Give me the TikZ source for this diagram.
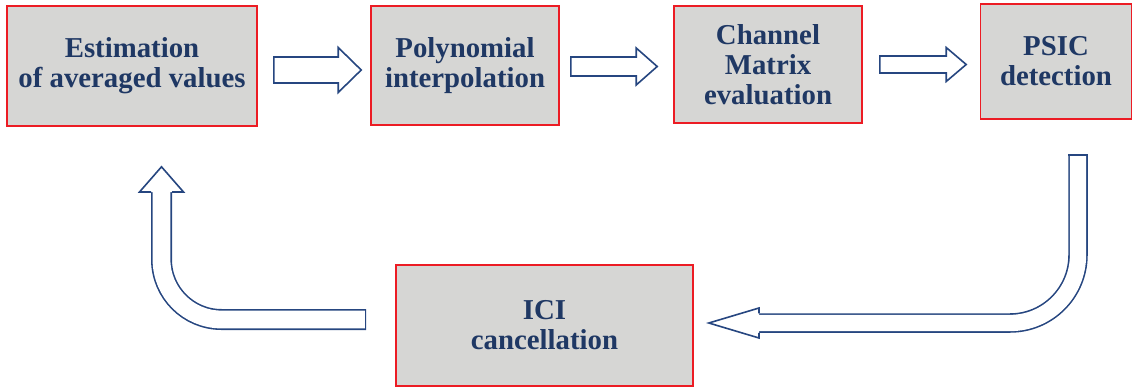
\documentclass[tikz,border=0pt]{standalone}
\usepackage{fontspec}
\setmainfont{Liberation Serif}
\usetikzlibrary{calc}
\definecolor{boxfill}{RGB}{214,214,212}
\definecolor{boxred}{RGB}{236,28,36}
\definecolor{txtblue}{RGB}{31,56,100}
\definecolor{arrblue}{RGB}{38,70,128}
\newcommand\blockarr[5]{%
  \draw[barrow] let \p1=(#1), \p2=(#2) in
    (\x1,\y1+#4) -- (\x2-#3,\y1+#4) -- (\x2-#3,\y1+#5) -- (\x2,\y1)
    -- (\x2-#3,\y1-#5) -- (\x2-#3,\y1-#4) -- (\x1,\y1-#4) -- cycle;}
\begin{document}
\begin{tikzpicture}[x=1pt,y=1pt,
  box/.style={draw=boxred, line width=1.6pt, fill=boxfill, text=txtblue,
    font=\bfseries\fontsize{28.8}{30}\selectfont, align=center, inner sep=0pt},
  barrow/.style={draw=arrblue, fill=white, line width=1.6pt, line join=miter},
  bandout/.style={draw=arrblue, line width=#1},
  bandin/.style={draw=white, line width=#1},
  capline/.style={draw=arrblue, line width=1.6pt},
]
\useasboundingbox (0,0) rectangle (1134,389);

% boxes
\node[box, minimum width=250pt, minimum height=120pt] (est) at (132,323)
  {Estimation\\of averaged values};
\node[box, minimum width=188pt, minimum height=119pt] (poly) at (465,323.5)
  {Polynomial\\interpolation};
\node[box, minimum width=188pt, minimum height=117pt] (chan) at (768,324.5)
  {Channel\\Matrix\\evaluation};
\node[box, minimum width=151pt, minimum height=115pt] (psic) at (1056,327.5)
  {PSIC\\detection};
\node[box, minimum width=297pt, minimum height=121pt] (ici) at (544.5,63.5)
  {ICI\\cancellation};

% straight block arrows
\coordinate (a1s) at ($(est.east |- 0,319)+(16,0)$);
\coordinate (a1e) at ($(poly.west |- 0,319)+(-9,0)$);
\blockarr{a1s}{a1e}{23pt}{13pt}{22.5pt}
\coordinate (a2s) at ($(poly.east |- 0,322.5)+(11,0)$);
\coordinate (a2e) at ($(chan.west |- 0,322.5)+(-16,0)$);
\blockarr{a2s}{a2e}{21pt}{9.5pt}{18.5pt}
\coordinate (a3s) at ($(chan.east |- 0,324.5)+(17,0)$);
\coordinate (a3e) at ($(psic.west |- 0,324.5)+(-13.5,0)$);
\blockarr{a3s}{a3e}{20pt}{8.5pt}{17pt}

% curved arrow PSIC -> ICI
\coordinate (r0) at (1078,235);
\coordinate (r1) at (759,66);
\coordinate (r2) at ($(ici.east |- r1)+(15,0)$);
\draw[bandout=19.5pt, rounded corners=68pt] (r0) |- (r1);
\draw[bandin=16.3pt, rounded corners=68pt] ($(r0)+(0,-0.8)$) |- (r1);
\draw[capline] ($(r0)+(-9.75,-0.8)$) -- ($(r0)+(9.75,-0.8)$);
\fill[white] (759,81) -- (r2) -- (759,51) -- cycle;
\draw[capline, line join=miter] (759,56.25) -- (759,51) -- (r2) -- (759,81) -- (759,75.75);

% curved arrow ICI -> Estimation
\coordinate (l0) at ($(ici.west |- 0,69.5)+(-29,0)$);
\coordinate (l1) at (161.5,197);
\coordinate (l2) at ($(est.south -| l1)+(0,-40)$);
\draw[bandout=21pt, rounded corners=60pt] (l0) -| (l1);
\draw[bandin=17.8pt, rounded corners=60pt] ($(l0)+(-0.8,0)$) -| (l1);
\draw[capline] ($(l0)+(-0.8,-10.5)$) -- ($(l0)+(-0.8,10.5)$);
\fill[white] (139.5,197) -- (l2) -- (183.5,197) -- cycle;
\draw[capline, line join=miter] (151,197) -- (139.5,197) -- (l2) -- (183.5,197) -- (172,197);
\end{tikzpicture}
\end{document}
